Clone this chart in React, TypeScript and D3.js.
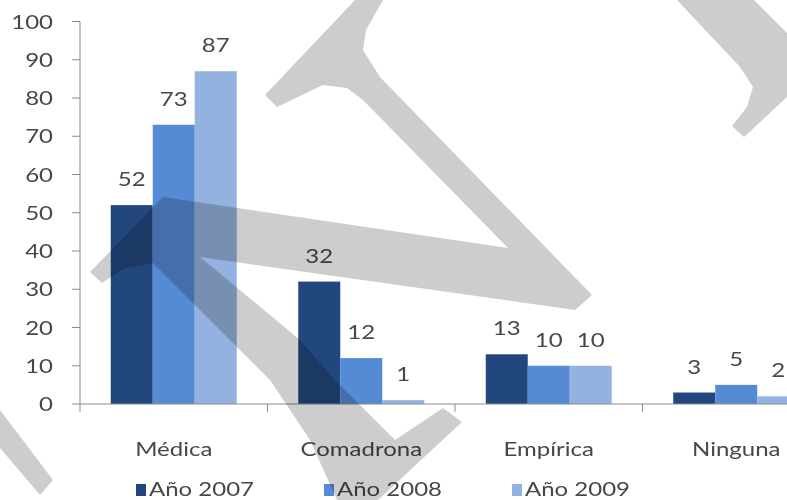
import React from "react";
import * as d3 from "d3";

// ---- data ----
const categories = ["Médica", "Comadrona", "Empírica", "Ninguna"];
const seriesNames = ["Año 2007", "Año 2008", "Año 2009"];
const values2007 = [52, 32, 13, 3];
const values2008 = [73, 12, 10, 5];
const values2009 = [87, 1, 10, 2];
const yTickValues = [0, 10, 20, 30, 40, 50, 60, 70, 80, 90, 100];

// ---- style ----
const W = 787;
const H = 500;
const colors = ["#22467e", "#558ad4", "#93b2df"];
const FONT = "Lato, 'Open Sans', sans-serif";
const TEXT = "#474747";
const AXIS = "#8c8c8c";
const SX = 1.2;
const FS = 20;

// decorative watermark overlay (not data)
const watermark = [
  "M90 272 L163 197 L508 248 L363 100 L347 88 L323 85 L277 107 L265 95 L355 0 L383 0 L366 30 L363 50 L380 77 L592 295 L575 310 L200 257 L300 340 L335 380 L395 440 L443 408 L462 422 L378 500 L337 500 L310 440 L270 380 L153 263 L125 268 L102 283 Z",
  "M0 410 L53 480 L40 495 L0 448 Z",
  "M677 0 L754 0 L787 33 L787 97 L744 137 L732 126 L747 107 L753 87 L740 67 Z",
];

function SText(props: {
  x: number;
  y: number;
  anchor?: string;
  children: React.ReactNode;
  fill?: string;
}) {
  const { x, y, anchor = "middle", children, fill = TEXT } = props;
  return (
    <text
      transform={`translate(${x},${y}) scale(${SX},1)`}
      textAnchor={anchor}
      fontFamily={FONT}
      fontSize={FS}
      fill={fill}
    >
      {children}
    </text>
  );
}

export default function App() {
  const series = [values2007, values2008, values2009];
  const y = d3.scaleLinear().domain([0, 100]).range([404, 21.5]);
  const x0 = d3
    .scaleBand<string>()
    .domain(categories)
    .range([80, 830])
    .paddingInner(0.328)
    .paddingOuter(0.164);
  const x1 = d3
    .scaleBand<string>()
    .domain(seriesNames)
    .range([0, x0.bandwidth()]);
  const step = x0.step();
  const y0 = y(0);

  return (
    <svg
      width={W}
      height={H}
      style={{ position: "absolute", left: 0, top: 0, background: "#fff" }}
    >
      <rect x={0} y={0} width={W} height={H} fill="#fff" />

      {/* y axis */}
      <line x1={80} x2={80} y1={y(100)} y2={y0} stroke={AXIS} />
      {yTickValues.map((v) => (
        <g key={v}>
          <line x1={72} x2={80} y1={y(v)} y2={y(v)} stroke={AXIS} />
          <SText x={53} y={y(v) + 7} anchor="end">
            {v}
          </SText>
        </g>
      ))}

      {/* bars */}
      {categories.map((c, ci) => (
        <g key={c}>
          {seriesNames.map((s, si) => {
            const v = series[si][ci];
            const bx = (x0(c) as number) + (x1(s) as number);
            return (
              <g key={s}>
                <rect
                  x={bx}
                  y={y(v)}
                  width={x1.bandwidth()}
                  height={y0 - y(v)}
                  fill={colors[si]}
                />
                <SText x={bx + x1.bandwidth() / 2} y={y(v) - 19}>
                  {v}
                </SText>
              </g>
            );
          })}
        </g>
      ))}

      {/* x axis */}
      <line x1={80} x2={W} y1={y0} y2={y0} stroke={AXIS} />
      {d3.range(categories.length + 1).map((i) => (
        <line
          key={i}
          x1={80 + i * step}
          x2={80 + i * step}
          y1={y0}
          y2={y0 + 8}
          stroke={AXIS}
        />
      ))}
      {categories.map((c) => (
        <SText key={c} x={(x0(c) as number) + x0.bandwidth() / 2} y={456}>
          {c}
        </SText>
      ))}

      {/* legend */}
      {seriesNames.map((s, i) => (
        <g key={s}>
          <rect x={136 + i * 188} y={484} width={10} height={12} fill={colors[i]} />
          <SText x={149 + i * 188} y={496} anchor="start">
            {s}
          </SText>
        </g>
      ))}

      {/* watermark */}
      <g style={{ mixBlendMode: "multiply" }}>
        {watermark.map((d, i) => (
          <path key={i} d={d} fill="#cdcdcd" />
        ))}
      </g>
    </svg>
  );
}
